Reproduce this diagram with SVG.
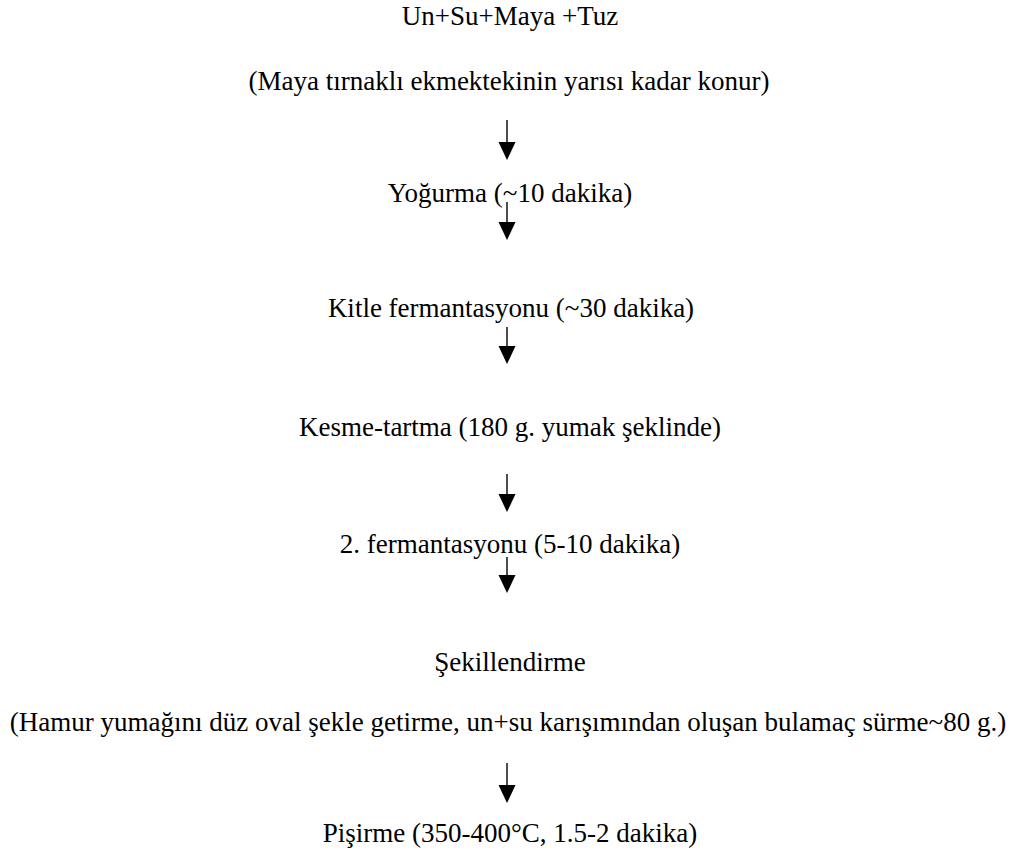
<svg xmlns="http://www.w3.org/2000/svg" width="1018" height="859" viewBox="0 0 1018 859">
<style>
.t{font-size:27px;fill:#000;text-anchor:middle}
.c{stroke:#000;stroke-width:1.4;fill:none}
.h{fill:#000;stroke:none}
</style>
<rect width="1018" height="859" fill="#fff"/>
<g font-family="'Liberation Serif', Tinos, 'DejaVu Serif', serif">
<g id="n1"><text class="t" x="510" y="25">Un+Su+Maya +Tuz</text></g>
<g id="n1b"><text class="t" x="509" y="90">(Maya tırnaklı ekmektekinin yarısı kadar konur)</text></g>
<g id="n2"><text class="t" x="510" y="202">Yoğurma (~10 dakika)</text></g>
<g id="n3"><text class="t" x="511" y="317">Kitle fermantasyonu (~30 dakika)</text></g>
<g id="n4"><text class="t" x="510" y="436">Kesme-tartma (180 g. yumak şeklinde)</text></g>
<g id="n5"><text class="t" x="510" y="553">2. fermantasyonu (5-10 dakika)</text></g>
<g id="n6"><text class="t" x="510" y="671">Şekillendirme</text></g>
<g id="n6b"><text class="t" x="508" y="731">(Hamur yumağını düz oval şekle getirme, un+su karışımından oluşan bulamaç sürme~80 g.)</text></g>
<g id="n7"><text class="t" x="510" y="842">Pişirme (350-400°C, 1.5-2 dakika)</text></g>
</g>
<g id="connectors">
<line class="c" x1="507" y1="120" x2="507" y2="145"/><polygon class="h" points="498.5,142 515.5,142 507,160"/>
<line class="c" x1="507" y1="202" x2="507" y2="225"/><polygon class="h" points="498.5,222 515.5,222 507,240"/>
<line class="c" x1="507" y1="327" x2="507" y2="349"/><polygon class="h" points="498.5,346 515.5,346 507,364"/>
<line class="c" x1="507" y1="474" x2="507" y2="497"/><polygon class="h" points="498.5,494 515.5,494 507,512"/>
<line class="c" x1="507" y1="557" x2="507" y2="578"/><polygon class="h" points="498.5,575 515.5,575 507,593"/>
<line class="c" x1="507" y1="763" x2="507" y2="788"/><polygon class="h" points="498.5,785 515.5,785 507,803"/>
</g>
</svg>
